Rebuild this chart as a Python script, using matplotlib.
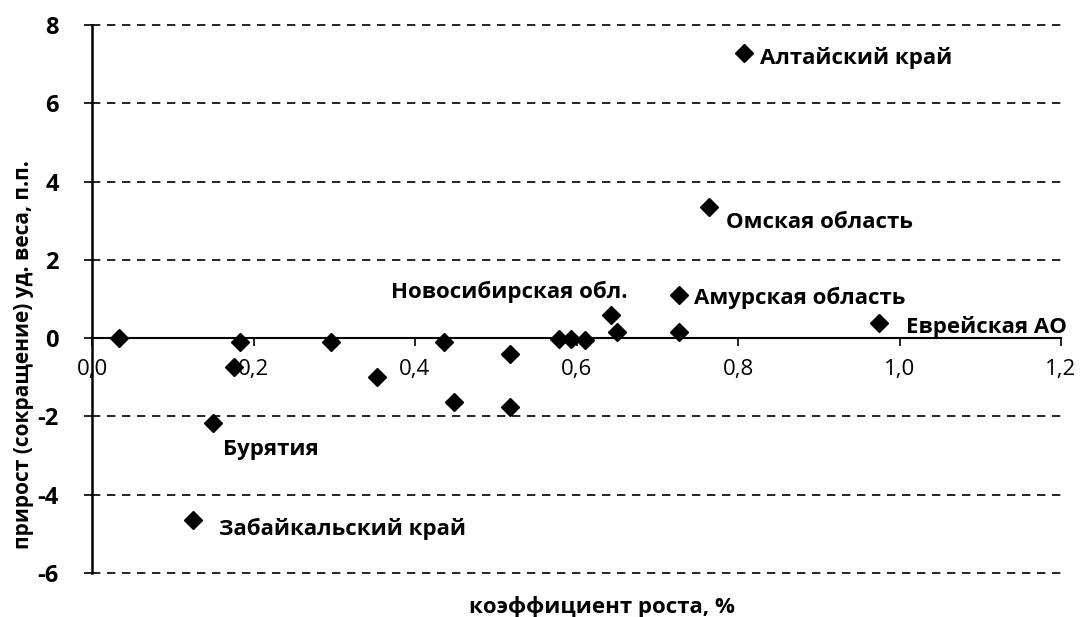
import matplotlib
matplotlib.use("Agg")
import matplotlib.pyplot as plt
from matplotlib.ticker import FuncFormatter

plt.rcParams['font.family'] = ['Open Sans', 'DejaVu Sans']

# data
x_vals = [0.034, 0.183, 0.176, 0.150, 0.125, 0.296, 0.353, 0.436, 0.448,
          0.518, 0.518, 0.578, 0.593, 0.611, 0.643, 0.650, 0.727, 0.727,
          0.764, 0.807, 0.975]
y_vals = [0.00, -0.10, -0.73, -2.17, -4.65, -0.10, -1.00, -0.10, -1.64,
          -0.40, -1.77, -0.02, -0.02, -0.05, 0.59, 0.15, 1.10, 0.15,
          3.35, 7.29, 0.38]

label_names = ["Алтайский край", "Омская область", "Новосибирская обл.",
               "Амурская область", "Еврейская АО", "Бурятия", "Забайкальский край"]
label_x = [0.807, 0.764, 0.643, 0.727, 0.975, 0.150, 0.125]
label_y = [7.29, 3.35, 0.59, 1.10, 0.38, -2.17, -4.65]
# text offsets in points and alignment
label_off = [(12, -4, 'left'), (12, -11, 'left'), (12, 16.5, 'right'),
             (11, -2, 'left'), (19, -3, 'left'), (7, -19, 'left'), (19, -6, 'left')]

x_ticks = [0.0, 0.2, 0.4, 0.6, 0.8, 1.0, 1.2]
y_ticks = [-6, -4, -2, 0, 2, 4, 6, 8]

fig = plt.figure(figsize=(10.83, 6.17), dpi=100)
ax = fig.add_axes([92/1083, 1-573/617, (1061-92)/1083, (573-25)/617])

ax.set_xlim(0, 1.2)
ax.set_ylim(-6, 8)

# dashed gridlines
for yv in y_ticks:
    if yv != 0:
        ax.axhline(yv, color='black', lw=1.2, ls=(0, (5, 4)), zorder=1, clip_on=False)

ax.plot(x_vals, y_vals, ls='none', marker='D', markersize=9,
        color='black', zorder=3)

for name, lx, ly, (dx, dy, ha) in zip(label_names, label_x, label_y, label_off):
    ax.annotate(name, (lx, ly), xytext=(dx, dy), textcoords='offset points',
                ha=ha, va='center', fontsize=16, fontweight='bold')

for s in ['top', 'right']:
    ax.spines[s].set_visible(False)
ax.spines['bottom'].set_position(('data', 0))
ax.spines['bottom'].set_linewidth(1.5)
ax.spines['left'].set_linewidth(1.8)

ax.set_xticks(x_ticks)
ax.set_yticks(y_ticks)
ax.xaxis.set_major_formatter(FuncFormatter(lambda v, p: f"{v:.1f}".replace('.', ',')))
ax.yaxis.set_major_formatter(FuncFormatter(lambda v, p: f"{v:.0f}"))
ax.tick_params(axis='x', direction='out', length=6, width=1.2, pad=9, labelsize=16)
ax.tick_params(axis='y', direction='out', length=6, width=1.2, pad=18, labelsize=17)
for t in ax.get_yticklabels():
    t.set_fontweight('bold')

fig.text(24/1083, 1-355/617, "прирост (сокращение) уд. веса, п.п.", rotation=90,
         ha='center', va='center', fontsize=15, fontweight='bold')
fig.text(602/1083, 1-607/617, "коэффициент роста, %", ha='center', va='center',
         fontsize=16, fontweight='bold')

fig.savefig('out.png', dpi=100)
